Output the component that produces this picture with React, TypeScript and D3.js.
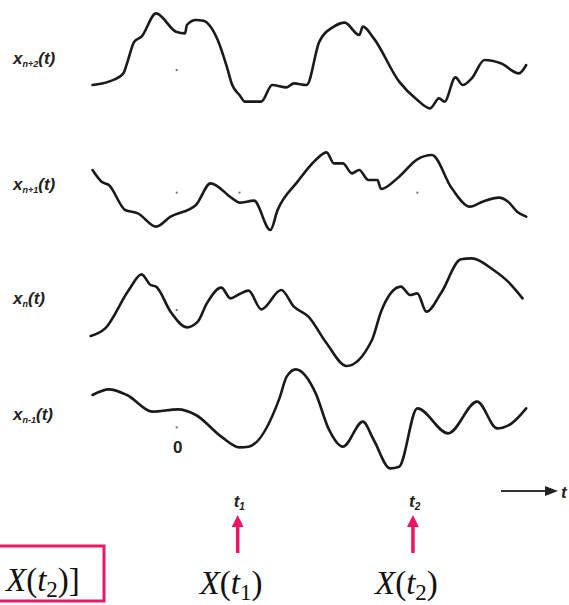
import React from "react";
import * as d3 from "d3";

// Sample functions of a random process; t in trace units (0..1568), v in trace units (down-positive within each row)
const seriesNames = ["n+2", "n+1", "n", "n-1"];
const rowOffsets = [0, 120, 240, 340];

const xnp2: [number, number][] = [
  [255, 255], [300, 245], [340, 220], [350, 190], [370, 125], [390, 110], [430, 40], [485, 95], [510, 100],
  [515, 75], [540, 60], [560, 62], [600, 120], [625, 200], [640, 255], [660, 285], [675, 305], [720, 305],
  [750, 255], [790, 262], [810, 250], [845, 255], [880, 125], [920, 80], [950, 68], [990, 105], [1000, 80],
  [1030, 115], [1100, 245], [1150, 300], [1185, 325], [1210, 295], [1225, 305], [1255, 232], [1275, 255],
  [1300, 235], [1335, 180], [1380, 190], [1430, 220], [1450, 195],
];
const xnp1: [number, number][] = [
  [255, 150], [280, 185], [300, 195], [345, 270], [380, 280], [430, 320], [470, 290], [540, 255], [580, 190],
  [640, 235], [660, 248], [700, 242], [745, 330], [765, 270], [820, 185], [870, 120], [900, 97], [920, 130],
  [945, 130], [970, 160], [990, 150], [1015, 180], [1040, 180], [1050, 207], [1100, 170], [1150, 118],
  [1190, 105], [1245, 205], [1295, 260], [1330, 245], [1375, 233], [1400, 245], [1425, 275], [1450, 290],
];
const xn: [number, number][] = [
  [250, 288], [290, 265], [355, 150], [390, 103], [415, 135], [430, 140], [470, 215], [515, 262], [545, 245],
  [570, 190], [610, 143], [635, 175], [660, 162], [685, 152], [720, 208], [775, 150], [810, 200], [850, 230],
  [900, 310], [955, 378], [1025, 300], [1050, 215], [1105, 140], [1130, 165], [1150, 160], [1175, 215],
  [1215, 160], [1270, 58], [1300, 55], [1360, 90], [1400, 125], [1440, 175],
];
const xnm1: [number, number][] = [
  [255, 165], [300, 148], [350, 165], [420, 215], [490, 208], [540, 225], [610, 290], [660, 322], [685, 320],
  [770, 175], [790, 110], [815, 88], [870, 160], [905, 265], [945, 320], [1000, 245], [1030, 300], [1075, 385],
  [1100, 380], [1150, 205], [1235, 280], [1315, 185], [1370, 265], [1410, 250], [1450, 205],
];
const allSeries = [xnp2, xnp1, xn, xnm1];

// marker dots (t, v, row)
const dots: [number, number, number][] = [
  [487, 210, 0], [487, 218, 1], [660, 218, 1], [1150, 218, 1], [487, 210, 2], [487, 262, 3],
];
const tMarks = [{ t: 655, label: "1" }, { t: 1138, label: "2" }];

const PINK = "#ec1566";

export default function App() {
  const x = d3.scaleLinear().domain([0, 1568]).range([0, 569]);
  const yRow = (row: number) => d3.scaleLinear().domain([0, 360]).range([rowOffsets[row], rowOffsets[row] + 120]);
  const labelY = [64, 190, 304, 420];
  const serif = "'Liberation Serif', 'Times New Roman', serif";
  const sans = "'Liberation Sans', Arial, sans-serif";

  return (
    <div style={{ position: "absolute", left: 0, top: 0 }}>
      <svg width={569} height={605} style={{ display: "block", background: "#fff" }}>
        {allSeries.map((s, i) => {
          const y = yRow(i);
          const line = d3.line<[number, number]>().x((d) => x(d[0])).y((d) => y(d[1])).curve(d3.curveMonotoneX);
          return <path key={i} d={line(s) || ""} fill="none" stroke="#1a1a1a" strokeWidth={2.6} strokeLinejoin="round" strokeLinecap="round" />;
        })}
        {dots.map((d, i) => (
          <rect key={i} x={x(d[0]) - 1} y={yRow(d[2])(d[1]) - 1} width={2} height={2} fill="#777" />
        ))}
        {seriesNames.map((n, i) => (
          <text key={n} x={13} y={labelY[i]} fontFamily={sans} fontStyle="italic" fontWeight="bold" fontSize={17} fill="#222">
            x<tspan fontSize={9} dy={3}>{n}</tspan>
            <tspan dy={-3}>(t)</tspan>
          </text>
        ))}
        <text x={x(490)} y={453} textAnchor="middle" fontFamily={sans} fontWeight="bold" fontSize={17} fill="#222">0</text>
        {tMarks.map((m) => (
          <g key={m.label}>
            <text x={x(m.t) - 4} y={507} fontFamily={sans} fontStyle="italic" fontWeight="bold" fontSize={17} fill="#222">
              t<tspan fontSize={10} dy={3}>{m.label}</tspan>
            </text>
            <line x1={x(m.t)} x2={x(m.t)} y1={553} y2={526} stroke={PINK} strokeWidth={3.5} />
            <path d={`M${x(m.t) - 6},${527} L${x(m.t)},${515} L${x(m.t) + 6},${527} Z`} fill={PINK} />
            <text x={x(m.t) - 38} y={594} fontFamily={serif} fontSize={33} fill="#111">
              <tspan fontStyle="italic">X</tspan>(<tspan fontStyle="italic">t</tspan>
              <tspan fontSize={23} dy={6}>{m.label}</tspan>
              <tspan dy={-6}>)</tspan>
            </text>
          </g>
        ))}
        <line x1={501} x2={548} y1={491} y2={491} stroke="#333" strokeWidth={2.2} />
        <path d="M545,486 L558,491 L545,496 Z" fill="#222" />
        <text x={561} y={498} fontFamily={sans} fontStyle="italic" fontWeight="bold" fontSize={17} fill="#222">t</text>
        <rect x={-5} y={546} width={109} height={55} fill="none" stroke={PINK} strokeWidth={3} />
        <text x={6} y={591} fontFamily={serif} fontSize={33} fill="#111">
          <tspan fontStyle="italic">X</tspan>(<tspan fontStyle="italic">t</tspan>
          <tspan fontSize={23} dy={6}>2</tspan>
          <tspan dy={-6}>)]</tspan>
        </text>
      </svg>
    </div>
  );
}
